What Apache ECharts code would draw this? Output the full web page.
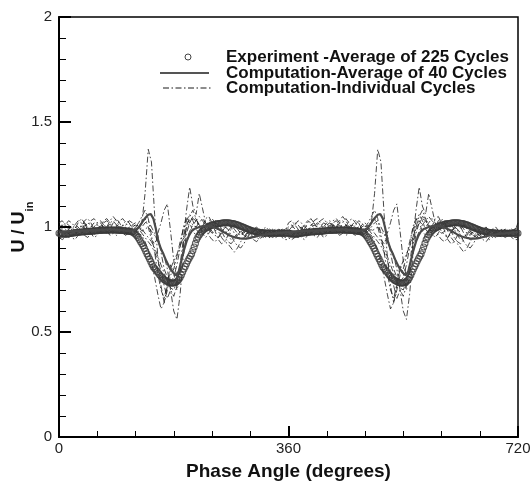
<!DOCTYPE html>
<html>
<head>
<meta charset="utf-8">
<script src="https://cdn.jsdelivr.net/npm/echarts@6/dist/echarts.min.js"></script>
<style>
  html, body { margin: 0; padding: 0; background: #fff; }
  #chart { width: 532px; height: 481px; }
</style>
</head>
<body>
<div id="chart"></div>
<script>
// Phase-averaged velocity ratio over one cycle; the plot shows two consecutive cycles.
const xTicks = [0, 360, 720];
const yTicks = [0, 0.5, 1, 1.5, 2];

// Experiment, average of 225 cycles (one value every 2 degrees, 0..358)
const expStep = 2;
const experiment = [
  0.970, 0.969, 0.968, 0.967, 0.966, 0.966, 0.966, 0.967, 0.968, 0.969,
  0.970, 0.971, 0.972, 0.973, 0.974, 0.974, 0.975, 0.976, 0.976, 0.977,
  0.977, 0.978, 0.978, 0.979, 0.979, 0.980, 0.980, 0.981, 0.981, 0.982,
  0.982, 0.983, 0.983, 0.984, 0.984, 0.985, 0.985, 0.985, 0.985, 0.986,
  0.986, 0.986, 0.986, 0.986, 0.986, 0.985, 0.985, 0.984, 0.984, 0.983,
  0.983, 0.982, 0.982, 0.981, 0.980, 0.979, 0.978, 0.977, 0.975, 0.970,
  0.965, 0.958, 0.950, 0.940, 0.930, 0.920, 0.910, 0.898, 0.885, 0.872,
  0.860, 0.848, 0.835, 0.822, 0.810, 0.802, 0.795, 0.788, 0.780, 0.772,
  0.765, 0.758, 0.752, 0.747, 0.743, 0.740, 0.737, 0.735, 0.733, 0.732,
  0.733, 0.735, 0.738, 0.743, 0.750, 0.760, 0.772, 0.786, 0.800, 0.812,
  0.825, 0.838, 0.850, 0.861, 0.872, 0.888, 0.905, 0.922, 0.940, 0.952,
  0.962, 0.970, 0.978, 0.984, 0.990, 0.994, 0.997, 1.000, 1.003, 1.006,
  1.008, 1.010, 1.012, 1.014, 1.015, 1.016, 1.017, 1.018, 1.019, 1.020,
  1.020, 1.020, 1.020, 1.020, 1.019, 1.018, 1.017, 1.016, 1.014, 1.012,
  1.010, 1.008, 1.005, 1.003, 1.000, 0.998, 0.995, 0.993, 0.990, 0.988,
  0.985, 0.983, 0.981, 0.980, 0.978, 0.977, 0.976, 0.975, 0.974, 0.973,
  0.972, 0.972, 0.971, 0.971, 0.970, 0.970, 0.970, 0.970, 0.970, 0.970,
  0.970, 0.970, 0.970, 0.970, 0.970, 0.970, 0.970, 0.970, 0.970, 0.970
];

// Computation, average of 40 cycles (every 4 degrees, 0..356)
const avgStep = 4;
const computedAvg = [
  0.975, 0.976, 0.977, 0.978, 0.979, 0.980, 0.981, 0.982, 0.982, 0.983,
  0.983, 0.984, 0.984, 0.985, 0.985, 0.986, 0.986, 0.987, 0.987, 0.988,
  0.988, 0.988, 0.987, 0.986, 0.985, 0.984, 0.983, 0.982, 0.982, 0.984,
  0.988, 0.995, 1.010, 1.030, 1.045, 1.058, 1.062, 1.040, 0.990, 0.930,
  0.895, 0.870, 0.840, 0.815, 0.795, 0.780, 0.770, 0.790, 0.840, 0.890,
  0.930, 0.960, 0.980, 0.990, 0.995, 1.000, 1.003, 1.005, 1.006, 1.005,
  1.002, 0.998, 0.993, 0.987, 0.980, 0.973, 0.966, 0.960, 0.955, 0.951,
  0.948, 0.946, 0.945, 0.945, 0.946, 0.948, 0.951, 0.954, 0.957, 0.960,
  0.962, 0.964, 0.966, 0.968, 0.969, 0.970, 0.971, 0.972, 0.973, 0.974
];

// Computation, individual cycles (every 5 degrees, 0..355)
const cycStep = 5;
const cycleA = [
  1.00, 1.01, 0.99, 0.97, 0.98, 1.01, 1.03, 1.02, 0.99, 0.98, 1.00, 1.02,
  1.01, 0.98, 0.97, 0.99, 1.02, 1.03, 1.01, 0.99, 0.98, 0.99, 1.00, 0.99,
  0.98, 0.99, 1.02, 1.16, 1.37, 1.31, 1.06, 0.86, 0.72, 0.64, 0.70, 0.77,
  0.80, 0.86, 0.93, 0.99, 1.02, 1.03, 1.01, 1.00, 1.02, 1.04, 1.02, 0.99,
  0.97, 0.98, 1.00, 1.01, 0.99, 0.96, 0.94, 0.95, 0.97, 0.98, 0.96, 0.95,
  0.96, 0.98, 0.99, 0.98, 0.96, 0.97, 0.98, 0.97, 0.96, 0.97, 0.98, 0.99
];
const cycleB = [
  0.96, 0.95, 0.97, 0.99, 1.00, 0.98, 0.96, 0.97, 1.00, 1.02, 1.01, 0.98,
  0.97, 0.99, 1.01, 1.00, 0.98, 0.97, 0.98, 1.00, 1.01, 0.99, 0.97, 0.98,
  1.00, 1.01, 0.99, 0.97, 0.95, 0.93, 0.90, 0.86, 0.82, 0.78, 0.74, 0.71,
  0.70, 0.74, 0.82, 0.94, 1.08, 1.19, 1.10, 1.06, 1.16, 1.09, 1.02, 1.00,
  1.01, 1.03, 1.02, 0.99, 0.97, 0.98, 1.00, 1.01, 0.99, 0.97, 0.96, 0.97,
  0.99, 1.00, 0.98, 0.96, 0.95, 0.96, 0.98, 0.99, 0.97, 0.96, 0.96, 0.97
];
const cycleC = [
  0.98, 1.00, 1.02, 1.01, 0.99, 0.97, 0.98, 1.00, 1.03, 1.04, 1.02, 0.99,
  0.98, 1.00, 1.03, 1.04, 1.02, 0.99, 0.97, 0.98, 1.01, 1.03, 1.02, 0.99,
  0.97, 0.98, 1.00, 1.02, 1.03, 1.00, 0.97, 0.93, 0.90, 0.86, 0.80, 0.70,
  0.60, 0.56, 0.68, 0.86, 0.97, 1.02, 1.04, 1.03, 1.00, 0.98, 0.99, 1.02,
  1.03, 1.01, 0.98, 0.95, 0.93, 0.92, 0.90, 0.88, 0.90, 0.93, 0.95, 0.96,
  0.98, 0.97, 0.95, 0.94, 0.96, 0.98, 0.99, 0.98, 0.97, 0.98, 0.99, 0.98
];
const cycleD = [
  0.95, 0.94, 0.95, 0.97, 0.99, 1.01, 1.00, 0.98, 0.96, 0.95, 0.97, 1.00,
  1.02, 1.03, 1.01, 0.98, 0.96, 0.97, 1.00, 1.03, 1.04, 1.02, 0.99, 0.97,
  0.96, 0.97, 0.96, 0.93, 0.89, 0.83, 0.76, 0.68, 0.61, 0.64, 0.72, 0.80,
  0.84, 0.87, 0.91, 0.95, 0.99, 1.02, 1.05, 1.04, 1.01, 0.99, 1.00, 1.03,
  1.04, 1.02, 0.99, 0.98, 0.99, 1.01, 1.00, 0.97, 0.95, 0.94, 0.95, 0.97,
  0.96, 0.94, 0.93, 0.95, 0.97, 0.98, 0.96, 0.95, 0.96, 0.97, 0.96, 0.95
];
const cycleE = [
  0.99, 0.98, 0.96, 0.95, 0.96, 0.99, 1.02, 1.04, 1.02, 0.99, 0.97, 0.96,
  0.98, 1.01, 1.00, 0.97, 0.99, 1.02, 1.04, 1.02, 0.99, 0.97, 0.98, 1.01,
  1.02, 1.00, 0.98, 0.99, 1.00, 0.98, 0.96, 0.97, 1.02, 1.08, 1.11, 0.98,
  0.84, 0.76, 0.80, 0.88, 0.94, 0.98, 1.01, 1.03, 1.05, 1.03, 1.01, 1.00,
  0.98, 0.96, 0.95, 0.97, 1.00, 1.02, 1.01, 0.99, 0.97, 0.96, 0.98, 0.99,
  0.97, 0.95, 0.96, 0.98, 0.99, 0.97, 0.95, 0.96, 0.98, 0.99, 0.98, 0.99
];
const cycleF = [
  1.02, 1.03, 1.01, 0.99, 0.97, 0.96, 0.98, 1.01, 1.02, 1.00, 0.98, 0.99,
  1.01, 1.02, 1.00, 0.98, 0.97, 0.99, 1.01, 1.00, 0.97, 0.96, 0.98, 1.00,
  1.01, 0.99, 0.97, 0.95, 0.93, 0.91, 0.88, 0.84, 0.79, 0.72, 0.66, 0.70,
  0.67, 0.72, 0.79, 0.90, 1.00, 1.05, 1.08, 1.04, 1.00, 0.97, 0.95, 0.97,
  1.00, 1.02, 1.01, 0.98, 0.95, 0.93, 0.92, 0.94, 0.96, 0.98, 0.99, 0.98,
  0.96, 0.95, 0.97, 0.99, 0.98, 0.96, 0.95, 0.97, 0.99, 0.98, 0.97, 0.98
];
const cycleG = [
  0.97, 0.99, 1.01, 1.03, 1.02, 1.00, 0.99, 0.97, 0.98, 1.01, 1.03, 1.04,
  1.02, 0.99, 0.98, 1.00, 1.03, 1.05, 1.03, 1.00, 0.99, 1.01, 1.03, 1.02,
  1.00, 1.02, 1.05, 1.08, 1.04, 0.96, 0.88, 0.78, 0.70, 0.66, 0.73, 0.82,
  0.78, 0.70, 0.76, 0.92, 1.03, 1.06, 1.03, 0.99, 0.97, 1.00, 1.04, 1.05,
  1.02, 0.98, 0.94, 0.92, 0.93, 0.96, 0.99, 1.01, 1.00, 0.98, 0.97, 0.99,
  1.00, 0.98, 0.96, 0.97, 0.99, 1.00, 0.98, 0.96, 0.95, 0.96, 0.97, 0.97
];
const cycleH = [
  0.94, 0.96, 0.98, 0.97, 0.95, 0.94, 0.96, 0.99, 1.01, 1.00, 0.97, 0.95,
  0.96, 0.98, 1.02, 1.03, 1.01, 0.98, 0.96, 0.97, 0.99, 1.00, 0.98, 0.96,
  0.97, 1.00, 1.03, 1.04, 1.00, 0.94, 0.92, 0.96, 0.88, 0.80, 0.76, 0.74,
  0.76, 0.82, 0.90, 1.00, 1.04, 1.02, 0.98, 0.96, 0.98, 1.01, 0.99, 0.96,
  0.94, 0.93, 0.95, 0.98, 1.00, 0.99, 0.96, 0.93, 0.91, 0.90, 0.92, 0.95,
  0.97, 0.99, 1.00, 0.98, 0.96, 0.95, 0.96, 0.98, 0.99, 0.97, 0.95, 0.94
];
const individualCycles = [cycleA, cycleB, cycleC, cycleD, cycleE, cycleF, cycleG, cycleH];

const legendLabels = [
  'Experiment -Average of 225 Cycles',
  'Computation-Average of 40 Cycles',
  'Computation-Individual Cycles'
];

// Lay one cycle of samples out over 0..720 degrees (two cycles, closed at 720)
function twoCycles(values, step) {
  const pts = [];
  for (let c = 0; c < 2; c++) {
    values.forEach((v, i) => pts.push([c * 360 + i * step, v]));
  }
  pts.push([720, values[0]]);
  return pts;
}

const FONT = 'Liberation Sans, Arial, Helvetica, sans-serif';
const dashDot = [6, 2.5, 1.5, 2.5];

const series = [];
individualCycles.forEach(cyc => {
  series.push({
    name: legendLabels[2],
    type: 'line',
    data: twoCycles(cyc, cycStep),
    symbol: 'none',
    silent: true,
    z: 2,
    lineStyle: { color: '#1a1a1a', width: 0.8, type: dashDot }
  });
});
series.push({
  name: legendLabels[0],
  type: 'scatter',
  data: twoCycles(experiment, expStep),
  symbol: 'circle',
  symbolSize: 6,
  z: 3,
  itemStyle: { color: 'rgba(255,255,255,0)', borderColor: '#3a3a3a', borderWidth: 1.1 }
});
series.push({
  name: legendLabels[1],
  type: 'line',
  data: twoCycles(computedAvg, avgStep),
  symbol: 'none',
  z: 4,
  lineStyle: { color: '#4a4a4a', width: 2.2 }
});

const chart = echarts.init(document.getElementById('chart'), null, { renderer: 'canvas' });

const legendX = 160, legendTextX = 226, legendY = [57, 73, 88];
chart.setOption({
  animation: false,
  backgroundColor: '#fff',
  grid: {
    left: 59, right: 14, top: 17, bottom: 44,
    containLabel: false, outerBoundsMode: 'none',
    show: true, borderColor: '#000', borderWidth: 1.5, backgroundColor: 'transparent'
  },
  xAxis: {
    type: 'value', min: xTicks[0], max: xTicks[xTicks.length - 1], interval: 360,
    name: 'Phase Angle (degrees)', nameLocation: 'middle', nameGap: 25, nameMoveOverlap: false,
    nameTextStyle: { fontFamily: FONT, fontWeight: 'bold', fontSize: 19, color: '#111' },
    axisLine: { show: true, lineStyle: { color: '#000', width: 2 } },
    axisTick: { show: true, inside: true, length: 11, lineStyle: { color: '#000', width: 2 } },
    minorTick: { show: true, splitNumber: 6, length: 6, lineStyle: { color: '#000', width: 1 } },
    splitLine: { show: false },
    axisLabel: { fontFamily: FONT, fontSize: 15, color: '#222', margin: 4 }
  },
  yAxis: {
    type: 'value', min: yTicks[0], max: yTicks[yTicks.length - 1], interval: 0.5,
    name: '{a|U / U}{b|in}', nameLocation: 'middle', nameGap: 30, nameRotate: 90, nameMoveOverlap: false,
    nameTextStyle: {
      rich: {
        a: { fontFamily: FONT, fontWeight: 'bold', fontSize: 18, color: '#111', lineHeight: 20 },
        b: { fontFamily: FONT, fontWeight: 'bold', fontSize: 11, color: '#111', verticalAlign: 'bottom', lineHeight: 20, padding: [0, 0, -6, 0] }
      }
    },
    axisLine: { show: true, lineStyle: { color: '#000', width: 2 } },
    axisTick: { show: true, inside: true, length: 12, lineStyle: { color: '#000', width: 2 } },
    minorTick: { show: true, splitNumber: 5, length: 7, lineStyle: { color: '#000', width: 1 } },
    splitLine: { show: false },
    axisLabel: {
      fontFamily: FONT, fontSize: 15, color: '#222', margin: 7,
      formatter: v => String(v)
    }
  },
  graphic: [
    { type: 'circle', shape: { cx: 188, cy: legendY[0], r: 3 }, style: { fill: 'none', stroke: '#444', lineWidth: 1 } },
    { type: 'line', shape: { x1: legendX, y1: legendY[1], x2: 209, y2: legendY[1] }, style: { stroke: '#555', lineWidth: 2 } },
    { type: 'line', shape: { x1: legendX + 3, y1: legendY[2], x2: 211, y2: legendY[2] }, style: { stroke: '#1a1a1a', lineWidth: 1, lineDash: dashDot } },
    ...legendLabels.map((t, i) => ({
      type: 'text', x: legendTextX, y: legendY[i],
      style: { text: t, fill: '#111', font: 'bold 17px ' + FONT, textVerticalAlign: 'middle', verticalAlign: 'middle' }
    }))
  ],
  series
});
</script>
</body>
</html>
